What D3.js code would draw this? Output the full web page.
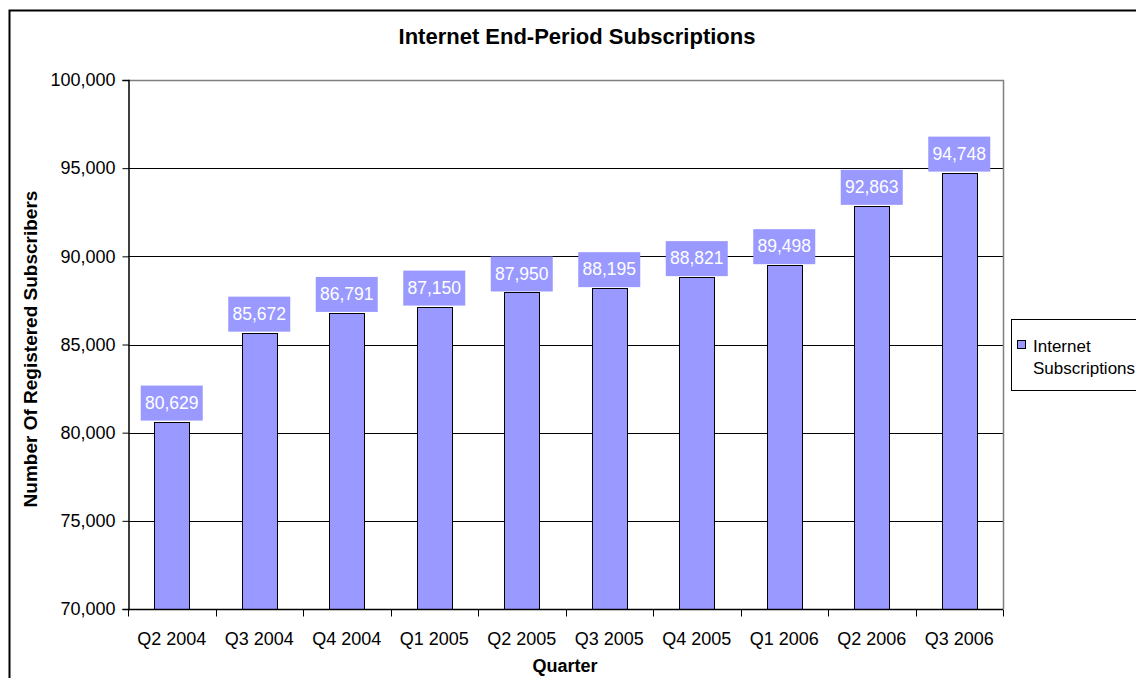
<!DOCTYPE html>
<html>
<head>
<meta charset="utf-8">
<script src="https://cdn.jsdelivr.net/npm/d3@7"></script>
<style>
  html, body { margin: 0; padding: 0; background: #fff; }
  svg { display: block; font-family: Arial, "Liberation Sans", sans-serif; }
</style>
</head>
<body>
<svg id="chart" width="1136" height="678"></svg>
<script>
// Quarterly internet subscription counts
const quarters = ["Q2 2004", "Q3 2004", "Q4 2004", "Q1 2005", "Q2 2005",
                  "Q3 2005", "Q4 2005", "Q1 2006", "Q2 2006", "Q3 2006"];
const subscribers = [80629, 85672, 86791, 87150, 87950,
                     88195, 88821, 89498, 92863, 94748];
const yTicks = [70000, 75000, 80000, 85000, 90000, 95000, 100000];
const seriesName = ["Internet", "Subscriptions"];

const FONT = "Arial, 'Liberation Sans', sans-serif";
const svg = d3.select("#chart");
const plot = { left: 128, right: 1003, top: 80, bottom: 609 };
const barColor = "#9999FF";

// Outer chart frame
svg.append("rect")
  .attr("x", 9.5).attr("y", 10.5)
  .attr("width", 1200).attr("height", 700)
  .attr("fill", "#fff").attr("stroke", "#000").attr("stroke-width", 2);

const x = d3.scaleBand().domain(quarters)
  .range([plot.left, plot.right]).paddingInner(0).paddingOuter(0);
const y = d3.scaleLinear().domain([70000, 100000])
  .range([plot.bottom, plot.top]);

// Horizontal gridlines
svg.append("g").selectAll("line")
  .data(yTicks.filter(d => d > 70000 && d < 100000))
  .join("line")
  .attr("x1", plot.left).attr("x2", plot.right)
  .attr("y1", d => Math.round(y(d)) + 0.5).attr("y2", d => Math.round(y(d)) + 0.5)
  .attr("stroke", "#000").attr("stroke-width", 1);

// Plot area border (top and right in grey)
svg.append("path")
  .attr("d", `M${plot.left},${plot.top + 0.5}H${plot.right + 0.5}V${plot.bottom}`)
  .attr("fill", "none").attr("stroke", "#808080").attr("stroke-width", 1.5);

// Bars
const barW = x.bandwidth() * 0.4;
svg.append("g").selectAll("rect")
  .data(quarters)
  .join("rect")
  .attr("x", (d) => Math.round(x(d) + (x.bandwidth() - barW) / 2) + 0.5)
  .attr("y", (d, i) => Math.round(y(subscribers[i])) + 0.5)
  .attr("width", Math.round(barW))
  .attr("height", (d, i) => plot.bottom - Math.round(y(subscribers[i])))
  .attr("fill", barColor)
  .attr("stroke", "#000").attr("stroke-width", 1);

// Y axis
const yAxis = svg.append("g")
  .attr("transform", `translate(${plot.left + 0.5},0)`)
  .call(d3.axisLeft(y).tickValues(yTicks).tickSize(6).tickPadding(7)
        .tickFormat(d3.format(",")));
yAxis.select(".domain").attr("stroke", "#000").attr("stroke-width", 1.5);
yAxis.selectAll(".tick line").attr("stroke", "#000");
yAxis.selectAll("text").attr("font-size", 18).attr("fill", "#000")
  .attr("font-family", FONT);

// X axis: ticks at category boundaries
const xAxis = svg.append("g")
  .attr("transform", `translate(0,${plot.bottom + 0.5})`)
  .call(d3.axisBottom(x).tickSize(0).tickPadding(23));
xAxis.select(".domain").attr("stroke", "#000").attr("stroke-width", 1.5)
  .attr("d", `M${plot.left},0H${plot.right}`);
xAxis.selectAll("text").attr("font-size", 18).attr("fill", "#000")
  .attr("font-family", FONT);
xAxis.append("g").selectAll("line")
  .data(quarters.concat(["end"]))
  .join("line")
  .attr("x1", (d, i) => Math.round(plot.left + i * x.bandwidth()) + 0.5)
  .attr("x2", (d, i) => Math.round(plot.left + i * x.bandwidth()) + 0.5)
  .attr("y1", 0).attr("y2", 7)
  .attr("stroke", "#000");

// Value labels on boxes
const labels = svg.append("g").selectAll("g")
  .data(quarters)
  .join("g")
  .attr("transform", (d, i) =>
    `translate(${x(d) + x.bandwidth() / 2},${y(subscribers[i]) - 19})`);
labels.append("rect")
  .attr("x", -31).attr("y", -17).attr("width", 62).attr("height", 35)
  .attr("fill", barColor);
labels.append("text")
  .attr("text-anchor", "middle").attr("dy", "0.36em")
  .attr("font-size", 17.5).attr("fill", "#fff")
  .text((d, i) => d3.format(",")(subscribers[i]));

// Titles
svg.append("text")
  .attr("x", 577).attr("y", 44).attr("text-anchor", "middle")
  .attr("font-size", 22).attr("font-weight", "bold")
  .text("Internet End-Period Subscriptions");
svg.append("text")
  .attr("x", 565).attr("y", 672).attr("text-anchor", "middle")
  .attr("font-size", 18).attr("font-weight", "bold")
  .text("Quarter");
svg.append("text")
  .attr("transform", `translate(37,349) rotate(-90)`)
  .attr("text-anchor", "middle")
  .attr("font-size", 19).attr("font-weight", "bold")
  .text("Number Of Registered Subscribers");

// Legend
const legend = svg.append("g");
legend.append("rect")
  .attr("x", 1011.5).attr("y", 319.5).attr("width", 200).attr("height", 71)
  .attr("fill", "#fff").attr("stroke", "#000").attr("stroke-width", 1);
legend.append("rect")
  .attr("x", 1017.5).attr("y", 340.5).attr("width", 8).attr("height", 8)
  .attr("fill", barColor).attr("stroke", "#000");
legend.append("text")
  .attr("x", 1033).attr("y", 352).attr("font-size", 17)
  .text(seriesName[0]);
legend.append("text")
  .attr("x", 1033).attr("y", 374).attr("font-size", 17)
  .text(seriesName[1]);
</script>
</body>
</html>
